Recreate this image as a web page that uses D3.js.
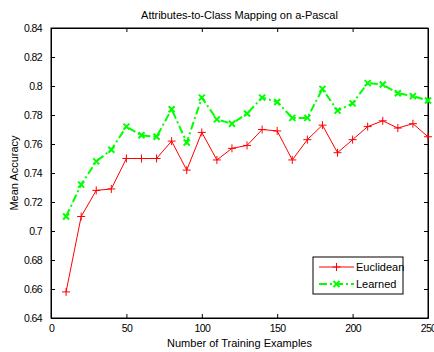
<!DOCTYPE html>
<html>
<head>
<meta charset="utf-8">
<script src="https://cdn.jsdelivr.net/npm/d3@7"></script>
<style>
  body { margin: 0; background: #fff; }
  text { font-family: "Liberation Sans", Arial, sans-serif; fill: #000; }
</style>
</head>
<body>
<div class="chart"></div>
<script>
var trainSizes = [10, 20, 30, 40, 50, 60, 70, 80, 90, 100, 110, 120, 130, 140, 150, 160, 170, 180, 190, 200, 210, 220, 230, 240, 250];
var euclidean = [0.658, 0.710, 0.728, 0.729, 0.750, 0.750, 0.750, 0.762, 0.742, 0.768, 0.749, 0.757, 0.759, 0.770, 0.769, 0.749, 0.763, 0.773, 0.754, 0.763, 0.772, 0.776, 0.771, 0.774, 0.765];
var learned = [0.710, 0.732, 0.748, 0.756, 0.772, 0.766, 0.765, 0.784, 0.761, 0.792, 0.777, 0.774, 0.781, 0.792, 0.789, 0.778, 0.778, 0.798, 0.783, 0.788, 0.802, 0.801, 0.795, 0.793, 0.790];
var xTicks = [0, 50, 100, 150, 200, 250];
var yTicks = [0.64, 0.66, 0.68, 0.7, 0.72, 0.74, 0.76, 0.78, 0.8, 0.82, 0.84];

var width = 434, height = 352;
var mLeft = 51, mRight = 428, mTop = 28, mBottom = 318;

var svg = d3.select(".chart").append("svg")
    .attr("width", width)
    .attr("height", height);

var x = d3.scaleLinear().domain([0, 250]).range([mLeft, mRight]);
var y = d3.scaleLinear().domain([0.64, 0.84]).range([mBottom, mTop]);

// axes box, ticks pointing inward like matlab
svg.append("g")
    .attr("transform", "translate(0," + mBottom + ")")
    .call(d3.axisBottom(x).tickValues(xTicks).tickSizeInner(-4).tickSizeOuter(0).tickPadding(7).tickFormat(d3.format("d")));
svg.append("g")
    .attr("transform", "translate(0," + mTop + ")")
    .call(d3.axisTop(x).tickValues(xTicks).tickSizeInner(-4).tickSizeOuter(0).tickFormat(""));
svg.append("g")
    .attr("transform", "translate(" + mLeft + ",0)")
    .call(d3.axisLeft(y).tickValues(yTicks).tickSizeInner(-4).tickSizeOuter(0).tickPadding(9).tickFormat(function (d) { return String(+d.toFixed(2)); }));
svg.append("g")
    .attr("transform", "translate(" + mRight + ",0)")
    .call(d3.axisRight(y).tickValues(yTicks).tickSizeInner(-4).tickSizeOuter(0).tickFormat(""));

svg.selectAll(".domain").attr("stroke", "#000");
svg.selectAll(".tick line").attr("stroke", "#000");
svg.selectAll(".tick text")
    .style("font-size", "10.5px").style("letter-spacing", "-0.6px").attr("fill", "#000");

svg.append("rect")
    .attr("x", mLeft).attr("y", mTop)
    .attr("width", mRight - mLeft).attr("height", mBottom - mTop)
    .attr("fill", "none").attr("stroke", "#000");

// titles
svg.append("text")
    .attr("x", (mLeft + mRight) / 2).attr("y", 19)
    .attr("text-anchor", "middle").style("font-size", "11px")
    .text("Attributes-to-Class Mapping on a-Pascal");
svg.append("text")
    .attr("x", (mLeft + mRight) / 2).attr("y", 347)
    .attr("text-anchor", "middle").style("font-size", "11px")
    .text("Number of Training Examples");
svg.append("text")
    .attr("transform", "translate(18," + (mTop + mBottom) / 2 + ") rotate(-90)")
    .attr("text-anchor", "middle").style("font-size", "11px")
    .text("Mean Accuracy");

var line = d3.line();

function plus(g, s) {
    g.append("path").attr("d", "M" + (-s) + ",0H" + s + "M0," + (-s) + "V" + s);
}
function cross(g, s) {
    g.append("path").attr("d", "M" + (-s) + "," + (-s) + "L" + s + "," + s + "M" + (-s) + "," + s + "L" + s + "," + (-s));
}

// euclidean series
svg.append("path")
    .attr("d", line(trainSizes.map(function (d, i) { return [x(d), y(euclidean[i])]; })))
    .attr("fill", "none").attr("stroke", "#ff0000").attr("stroke-width", 1);
svg.append("g").selectAll("g")
    .data(euclidean)
    .enter().append("g")
    .attr("transform", function (d, i) { return "translate(" + x(trainSizes[i]) + "," + y(d) + ")"; })
    .attr("stroke", "#ff0000").attr("stroke-width", 1)
    .each(function () { plus(d3.select(this), 4); });

// learned series
svg.append("path")
    .attr("d", line(trainSizes.map(function (d, i) { return [x(d), y(learned[i])]; })))
    .attr("fill", "none").attr("stroke", "#00ff00").attr("stroke-width", 2)
    .attr("stroke-dasharray", "8,3,2,3");
svg.append("g").selectAll("g")
    .data(learned)
    .enter().append("g")
    .attr("transform", function (d, i) { return "translate(" + x(trainSizes[i]) + "," + y(d) + ")"; })
    .attr("stroke", "#00ff00").attr("stroke-width", 2)
    .each(function () { cross(d3.select(this), 3); });

// legend
var lg = svg.append("g").attr("transform", "translate(313,257)");
lg.append("rect").attr("width", 90).attr("height", 37)
    .attr("fill", "#fff").attr("stroke", "#000");
lg.append("path").attr("d", "M6,10H41").attr("stroke", "#ff0000");
plus(lg.append("g").attr("transform", "translate(23.5,10)").attr("stroke", "#ff0000"), 4);
lg.append("path").attr("d", "M6,27H41").attr("stroke", "#00ff00").attr("stroke-width", 2).attr("stroke-dasharray", "8,3,2,3");
cross(lg.append("g").attr("transform", "translate(23.5,27)").attr("stroke", "#00ff00").attr("stroke-width", 2), 3);
lg.append("text").attr("x", 43).attr("y", 14).style("font-size", "11px").text("Euclidean");
lg.append("text").attr("x", 43).attr("y", 31).style("font-size", "11px").text("Learned");
</script>
</body>
</html>
